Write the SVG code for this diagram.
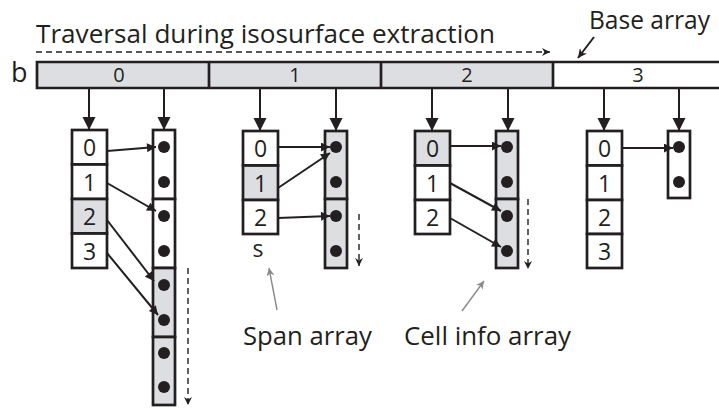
<svg xmlns="http://www.w3.org/2000/svg" width="719" height="410" viewBox="0 0 719 410">
<defs>
<style>
.t{font-family:"Open Sans","Liberation Sans",sans-serif;fill:#231f20}
.box{stroke:#231f20;stroke-width:2.7;fill:#fff}
.g{fill:#dcdee2}
.ln{stroke:#231f20;stroke-width:2.7;fill:none}
.ar{stroke:#231f20;stroke-width:2;fill:none}
.dash{stroke:#231f20;stroke-width:1.4;fill:none;stroke-dasharray:6 4}
.gray{stroke:#8a8a8a;stroke-width:1.4;fill:none}
.dot{fill:#231f20}
.num{font-size:23px;text-anchor:middle}
.bnum{font-size:20px;text-anchor:middle}
</style>
<marker id="big" viewBox="0 0 10 10" refX="10" refY="5" markerWidth="13" markerHeight="14" markerUnits="userSpaceOnUse" orient="auto"><path d="M0,0L10,5L0,10z" fill="#231f20"/></marker>
<marker id="sm" viewBox="0 0 10 10" refX="10" refY="5" markerWidth="11" markerHeight="9" markerUnits="userSpaceOnUse" orient="auto"><path d="M0,0L10,5L0,10z" fill="#231f20"/></marker>
<marker id="ds" viewBox="0 0 10 10" refX="10" refY="5" markerWidth="8" markerHeight="8" markerUnits="userSpaceOnUse" orient="auto"><path d="M0,0L10,5L0,10L3,5z" fill="#231f20"/></marker>
<marker id="gr" viewBox="0 0 10 10" refX="10" refY="5" markerWidth="10" markerHeight="8" markerUnits="userSpaceOnUse" orient="auto"><path d="M0,0L10,5L0,10L3,5z" fill="#8a8a8a"/></marker>
<marker id="bk" viewBox="0 0 10 10" refX="10" refY="5" markerWidth="11" markerHeight="9" markerUnits="userSpaceOnUse" orient="auto"><path d="M0,0L10,5L0,10L3,5z" fill="#231f20"/></marker>
</defs>

<g id="title">
<text class="t" x="36" y="43" font-size="26" textLength="459" lengthAdjust="spacingAndGlyphs">Traversal during isosurface extraction</text>
</g>
<g id="base-label">
<text class="t" x="589" y="29" font-size="25" textLength="121" lengthAdjust="spacingAndGlyphs">Base array</text>
</g>
<g id="b-label">
<text class="t" x="11" y="82" font-size="27">b</text>
</g>

<g id="base-array">
<rect class="g" x="37" y="62" width="516" height="26"/>
<path class="ln" d="M725,62H37V88H725M209,62V88M381,62V88M553,62V88"/>
<text class="t bnum" x="119" y="82">0</text>
<text class="t bnum" x="295" y="82">1</text>
<text class="t bnum" x="467" y="82">2</text>
<text class="t bnum" x="638" y="82">3</text>
</g>

<g id="span0">
<rect class="box" x="72" y="130" width="35" height="34.5"/>
<rect class="box" x="72" y="164.5" width="35" height="34.5"/>
<rect class="box g" x="72" y="199" width="35" height="34.5"/>
<rect class="box" x="72" y="233.5" width="35" height="34.5"/>
<text class="t num" x="89.5" y="156">0</text>
<text class="t num" x="89.5" y="190.5">1</text>
<text class="t num" x="89.5" y="225">2</text>
<text class="t num" x="89.5" y="259.5">3</text>
</g>
<g id="cell0">
<rect class="box" x="153" y="130" width="22" height="69"/>
<rect class="box" x="153" y="199" width="22" height="69"/>
<rect class="box g" x="153" y="268" width="22" height="69"/>
<rect class="box g" x="153" y="337" width="22" height="68"/>
<circle class="dot" cx="164" cy="147" r="6"/>
<circle class="dot" cx="164" cy="182" r="6"/>
<circle class="dot" cx="164" cy="216" r="6"/>
<circle class="dot" cx="164" cy="251" r="6"/>
<circle class="dot" cx="164" cy="285" r="6"/>
<circle class="dot" cx="164" cy="320" r="6"/>
<circle class="dot" cx="164" cy="353" r="6"/>
<circle class="dot" cx="164" cy="387" r="6"/>
</g>

<g id="span1">
<rect class="box" x="243" y="131" width="35" height="34.5"/>
<rect class="box g" x="243" y="165.5" width="35" height="34.5"/>
<rect class="box" x="243" y="200" width="35" height="34"/>
<text class="t num" x="260.5" y="157">0</text>
<text class="t num" x="260.5" y="191.5">1</text>
<text class="t num" x="260.5" y="226">2</text>
</g>
<g id="s-label">
<text class="t" x="258" y="257" font-size="23" text-anchor="middle">s</text>
</g>
<g id="cell1">
<rect class="box g" x="325" y="131" width="22" height="68"/>
<rect class="box g" x="325" y="199" width="22" height="69"/>
<circle class="dot" cx="336" cy="147" r="6"/>
<circle class="dot" cx="336" cy="182" r="6"/>
<circle class="dot" cx="336" cy="216" r="6"/>
<circle class="dot" cx="336" cy="251" r="6"/>
</g>

<g id="span2">
<rect class="box g" x="415" y="131" width="35" height="34.5"/>
<rect class="box" x="415" y="165.5" width="35" height="34.5"/>
<rect class="box" x="415" y="200" width="35" height="34"/>
<text class="t num" x="432.5" y="157">0</text>
<text class="t num" x="432.5" y="191.5">1</text>
<text class="t num" x="432.5" y="226">2</text>
</g>
<g id="cell2">
<rect class="box g" x="496" y="131" width="22" height="68"/>
<rect class="box g" x="496" y="199" width="22" height="69"/>
<circle class="dot" cx="507" cy="147" r="6"/>
<circle class="dot" cx="507" cy="182" r="6"/>
<circle class="dot" cx="507" cy="216" r="6"/>
<circle class="dot" cx="507" cy="251" r="6"/>
</g>

<g id="span3">
<rect class="box" x="587" y="131" width="35" height="34.5"/>
<rect class="box" x="587" y="165.5" width="35" height="34.5"/>
<rect class="box" x="587" y="200" width="35" height="34"/>
<rect class="box" x="587" y="234" width="35" height="34"/>
<text class="t num" x="604.5" y="157">0</text>
<text class="t num" x="604.5" y="191.5">1</text>
<text class="t num" x="604.5" y="226">2</text>
<text class="t num" x="604.5" y="260">3</text>
</g>
<g id="cell3">
<rect class="box" x="668" y="131" width="22" height="67"/>
<circle class="dot" cx="679" cy="147" r="6"/>
<circle class="dot" cx="679" cy="182" r="6"/>
</g>

<g id="span-label">
<text class="t" x="243" y="345" font-size="26" textLength="129" lengthAdjust="spacingAndGlyphs">Span array</text>
</g>
<g id="cellinfo-label">
<text class="t" x="404" y="345" font-size="26" textLength="167" lengthAdjust="spacingAndGlyphs">Cell info array</text>
</g>

<g id="connectors">
<path class="dash" d="M36,52H550" marker-end="url(#ds)"/>
<path class="ar" d="M594,37L578,58" marker-end="url(#bk)"/>

<path class="ar" d="M89,88V130" marker-end="url(#big)"/>
<path class="ar" d="M164,88V130" marker-end="url(#big)"/>
<path class="ar" d="M260,88V131" marker-end="url(#big)"/>
<path class="ar" d="M336,88V131" marker-end="url(#big)"/>
<path class="ar" d="M432,88V131" marker-end="url(#big)"/>
<path class="ar" d="M508,88V131" marker-end="url(#big)"/>
<path class="ar" d="M604,88V131" marker-end="url(#big)"/>
<path class="ar" d="M679,88V131" marker-end="url(#big)"/>

<path class="ar" d="M107,151L156,147" marker-end="url(#sm)"/>
<path class="ar" d="M107,183L156,211" marker-end="url(#sm)"/>
<path class="ar" d="M107,220L154,281" marker-end="url(#sm)"/>
<path class="ar" d="M107,253L158,315" marker-end="url(#sm)"/>

<path class="ar" d="M278,147H330" marker-end="url(#sm)"/>
<path class="ar" d="M278,188L330,153" marker-end="url(#sm)"/>
<path class="ar" d="M278,218L330,216" marker-end="url(#sm)"/>

<path class="ar" d="M450,146H501" marker-end="url(#sm)"/>
<path class="ar" d="M450,183L501,211" marker-end="url(#sm)"/>
<path class="ar" d="M450,218L501,247" marker-end="url(#sm)"/>

<path class="ar" d="M622,148H673" marker-end="url(#sm)"/>

<path class="dash" d="M188,268V405" marker-end="url(#ds)"/>
<path class="dash" d="M359,214V266" marker-end="url(#ds)"/>
<path class="dash" d="M528,199V269" marker-end="url(#ds)"/>

<path class="gray" d="M277,310L269,268" marker-end="url(#gr)"/>
<path class="gray" d="M462,311L484,281" marker-end="url(#gr)"/>
</g>
</svg>
